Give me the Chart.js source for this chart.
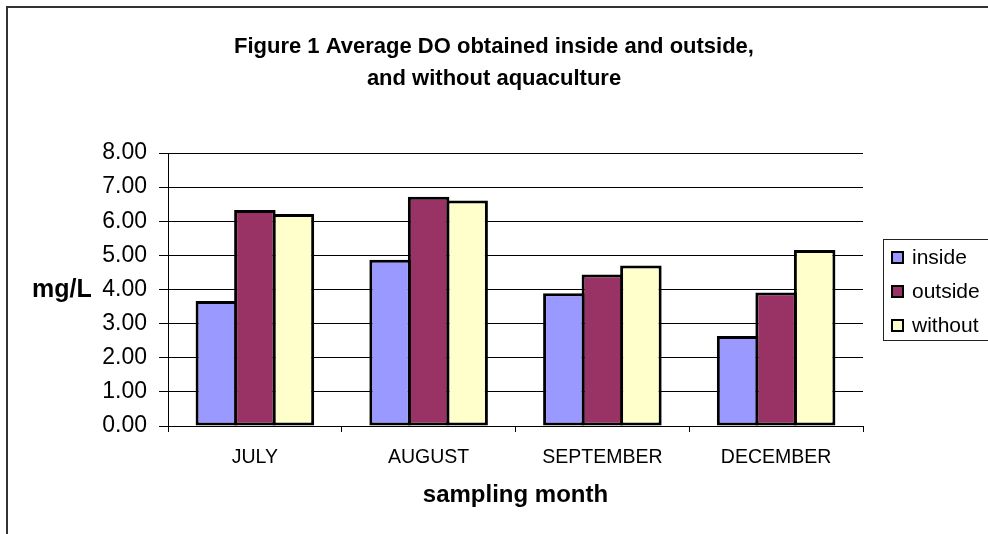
<!DOCTYPE html>
<html>
<head>
<meta charset="utf-8">
<script src="https://cdn.jsdelivr.net/npm/chart.js@4.4.1/dist/chart.umd.min.js"></script>
<style>
  html, body { margin: 0; padding: 0; background: #ffffff; }
  #wrap { width: 988px; height: 534px; position: relative; }
</style>
</head>
<body>
<div id="wrap"><canvas id="chart"></canvas></div>
<script>
// Sampling months and average dissolved oxygen (mg/L)
const months = ['JULY', 'AUGUST', 'SEPTEMBER', 'DECEMBER'];
const insideDO = [3.66, 4.87, 3.89, 2.64];
const outsideDO = [6.33, 6.72, 4.44, 3.91];
const withoutDO = [6.21, 6.61, 4.70, 5.16];
const seriesNames = ['inside', 'outside', 'without'];
const seriesColors = ['#9999FF', '#993366', '#FFFFCC'];
const titleLines = ['Figure 1 Average DO obtained inside and outside,', 'and without aquaculture'];
const yAxisLabel = 'mg/L';
const xAxisLabel = 'sampling month';

const FONT = '"Liberation Sans", Arial, Helvetica, sans-serif';

// Outer frame, horizontal y-axis label and boxed legend
const decorations = {
  id: 'decorations',
  beforeDraw(chart) {
    const ctx = chart.ctx;
    ctx.save();
    ctx.fillStyle = '#ffffff';
    ctx.fillRect(0, 0, chart.width, chart.height);
    ctx.restore();
  },
  afterDraw(chart) {
    const ctx = chart.ctx;
    const area = chart.chartArea;
    ctx.save();

    // frame
    ctx.strokeStyle = '#333333';
    ctx.lineWidth = 2;
    ctx.strokeRect(7, 7, chart.width + 20, chart.height + 20);

    // y-axis label, written horizontally
    const yScale = chart.scales.y;
    ctx.fillStyle = '#000000';
    ctx.font = 'bold 25px ' + FONT;
    ctx.textAlign = 'left';
    ctx.textBaseline = 'middle';
    ctx.fillText(yAxisLabel, 32, yScale.getPixelForValue(4) + 1);

    // legend box
    const lx = area.right + 20, ly = 239, lw = 106, lh = 101;
    ctx.strokeStyle = '#222222';
    ctx.lineWidth = 1;
    ctx.strokeRect(lx + 0.5, ly + 0.5, lw, lh);
    ctx.font = '21px ' + FONT;
    chart.data.datasets.forEach((ds, i) => {
      const cy = ly + 18 + i * 34;
      ctx.fillStyle = '#000000';
      ctx.fillRect(lx + 8, cy - 6, 13, 13);
      ctx.fillStyle = ds.backgroundColor;
      ctx.fillRect(lx + 10, cy - 4, 9, 9);
      ctx.fillStyle = '#000000';
      ctx.textBaseline = 'middle';
      ctx.fillText(ds.label, lx + 29, cy + 1);
    });
    ctx.restore();
  }
};

const makeSet = (i, values) => ({
  label: seriesNames[i],
  data: values,
  backgroundColor: seriesColors[i],
  borderColor: '#000000',
  borderWidth: 3,
  borderSkipped: false,
  categoryPercentage: 0.665,
  barPercentage: 1.078
});

new Chart(document.getElementById('chart'), {
  type: 'bar',
  data: {
    labels: months,
    datasets: [makeSet(0, insideDO), makeSet(1, outsideDO), makeSet(2, withoutDO)]
  },
  options: {
    responsive: true,
    maintainAspectRatio: false,
    animation: false,
    layout: { padding: { top: 31, left: 0, right: 0, bottom: 0 } },
    plugins: {
      legend: { display: false },
      tooltip: { enabled: false },
      title: {
        display: true,
        text: titleLines,
        color: '#000000',
        font: { family: FONT, size: 22, weight: 'bold', lineHeight: 32 / 22 },
        padding: { top: 0, bottom: 58 }
      }
    },
    scales: {
      x: {
        grid: { display: true, drawOnChartArea: false, drawTicks: true, tickLength: 6, color: '#000000', offset: true },
        border: { display: true, color: '#000000', width: 1 },
        ticks: { color: '#000000', font: { family: FONT, size: 19.5 }, padding: 14, maxRotation: 0 },
        title: {
          display: true,
          text: xAxisLabel,
          color: '#000000',
          font: { family: FONT, size: 24, weight: 'bold', lineHeight: 1.2 },
          padding: { top: 0, bottom: 24 }
        },
        afterFit(scale) { scale.height = 108; }
      },
      y: {
        min: 0,
        max: 8,
        grid: { color: '#000000', lineWidth: 1, drawTicks: true, tickLength: 9 },
        border: { display: true, color: '#000000', width: 1 },
        ticks: {
          stepSize: 1,
          color: '#000000',
          padding: 12,
          font: { family: FONT, size: 23 },
          callback: v => Number(v).toFixed(2)
        },
        afterFit(scale) { scale.width = 168; }
      },
      // keeps the space to the right of the plot free for the legend box
      legendRoom: {
        type: 'linear',
        position: 'right',
        display: true,
        grid: { display: false, drawTicks: false },
        border: { display: false },
        ticks: { display: false },
        afterFit(scale) { scale.width = 125; }
      }
    }
  },
  plugins: [decorations]
});
</script>
</body>
</html>
